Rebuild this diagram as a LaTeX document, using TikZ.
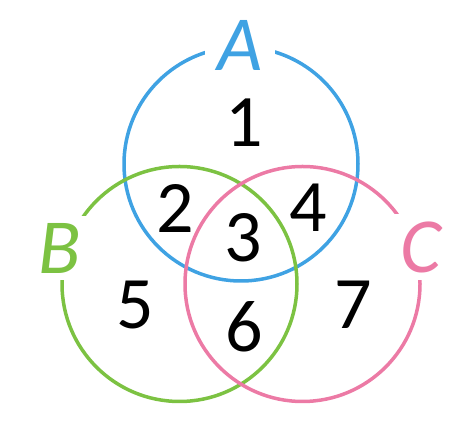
\documentclass[tikz,border=0pt]{standalone}
\usepackage{fontspec}
\setmainfont{Carlito}
\definecolor{cblue}{HTML}{3FA2E3}
\definecolor{cgreen}{HTML}{7CC242}
\definecolor{cpink}{HTML}{EC7AA5}
\begin{document}
\begin{tikzpicture}[x=1pt,y=1pt,
  ring/.style={line width=3.5pt},
  num/.style={font=\fontsize{74}{74}\selectfont, text=black, inner sep=0pt},
  setlab/.style={font=\fontsize{78}{78}\selectfont\itshape, fill=white, inner sep=7pt}]
\useasboundingbox (0,0) rectangle (469,425);
\draw[ring, cblue] (241,261) circle (117);
\draw[ring, cgreen] (179.5,141) circle (117.5);
\draw[ring, cpink] (302.5,141) circle (117.5);
\node[setlab, text=cblue, inner xsep=12pt] (la) at (240,380) {A};
\node[setlab, text=cgreen] (lb) at (60,177) {B};
\node[setlab, text=cpink] (lc) at (421,178) {C};
\node[num] (n1) at (244,302) {1};
\node[num] (n2) at (175,217) {2};
\node[num] (n3) at (243,187) {3};
\node[num] (n4) at (308,217) {4};
\node[num] (n5) at (135,120) {5};
\node[num] (n6) at (244,98) {6};
\node[num] (n7) at (353,120) {7};
\end{tikzpicture}
\end{document}
